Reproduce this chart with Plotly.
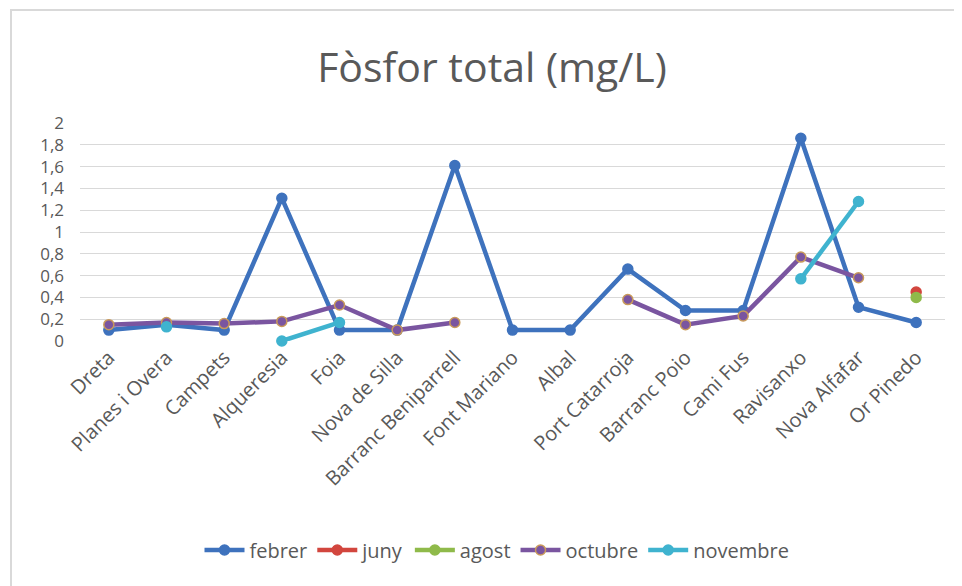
import plotly.graph_objects as go

categories = ["Dreta", "Planes i Overa", "Campets", "Alqueresia", "Foia", "Nova de Silla",
              "Barranc Beniparrell", "Font Mariano", "Albal", "Port Catarroja", "Barranc Poio",
              "Cami Fus", "Ravisanxo", "Nova Alfafar", "Or Pinedo"]

febrer = [0.10, 0.15, 0.10, 1.31, 0.10, 0.10, 1.61, 0.10, 0.10, 0.66, 0.28, 0.28, 1.86, 0.31, 0.17]
juny = [None, None, None, None, None, None, None, None, None, None, None, None, None, None, 0.45]
agost = [None, None, None, None, None, None, None, None, None, None, None, None, None, None, 0.40]
octubre = [0.15, 0.17, 0.16, 0.18, 0.33, 0.10, 0.17, None, None, 0.38, 0.15, 0.23, 0.77, 0.58, None]
novembre = [None, 0.13, None, 0.00, 0.17, None, None, None, None, None, None, None, 0.57, 1.28, None]

yticks = [0, 0.2, 0.4, 0.6, 0.8, 1, 1.2, 1.4, 1.6, 1.8, 2]
ytick_text = ["0", "0,2", "0,4", "0,6", "0,8", "1", "1,2", "1,4", "1,6", "1,8", "2"]

series = [
    ("febrer", febrer, "#3e72bd", "#3e72bd"),
    ("juny", juny, "#d2463e", "#d2463e"),
    ("agost", agost, "#8fba4a", "#8fba4a"),
    ("octubre", octubre, "#7a55a0", "#c99a5a"),
    ("novembre", novembre, "#3fb3cf", "#3fb3cf"),
]

fig = go.Figure()
for name, vals, col, edge in series:
    fig.add_trace(go.Scatter(
        x=categories, y=vals, name=name, mode="lines+markers",
        line=dict(color=col, width=4.5),
        marker=dict(color=col, size=10, line=dict(color=edge, width=1.5)),
        connectgaps=False, cliponaxis=False,
    ))

font_family = "Open Sans, Liberation Sans, sans-serif"
W, H = 954, 578

fig.update_layout(
    width=W, height=H,
    margin=dict(l=72, r=17, t=115, b=245),
    paper_bgcolor="white", plot_bgcolor="white",
    font=dict(family=font_family, color="#595959", size=18),
    title=dict(text="Fòsfor total (mg/L)", x=(492 - 8) / W, xanchor="center",
               y=1 - 60 / H, yanchor="middle", yref="container",
               font=dict(size=41, color="#595959", family=font_family)),
    xaxis=dict(type="category", range=[-0.5, 14.5], tickangle=-45,
               showgrid=False, showline=False, ticks="", zeroline=False,
               tickfont=dict(size=20, color="#595959")),
    yaxis=dict(range=[0, 2], tickvals=yticks, ticktext=ytick_text,
               showgrid=True, gridcolor="#d9d9d9", gridwidth=1,
               zeroline=False, showline=False, ticks="", ticklabelstandoff=15,
               tickfont=dict(size=17, color="#595959")),
    legend=dict(orientation="h", xref="container", yref="container",
                x=489 / W, xanchor="center", y=1 - 542 / H, yanchor="middle",
                font=dict(size=20, color="#595959"), itemwidth=40,
                traceorder="normal"),
    showlegend=True,
)

fig.add_shape(type="rect", xref="paper", yref="paper",
              x0=(3 - 72) / 865, x1=(975 - 72) / 865,
              y0=(333 - 600) / 218, y1=(333 - 2) / 218,
              line=dict(color="#d9d9d9", width=2), fillcolor="rgba(0,0,0,0)",
              layer="below")

fig.write_html("out.html")
